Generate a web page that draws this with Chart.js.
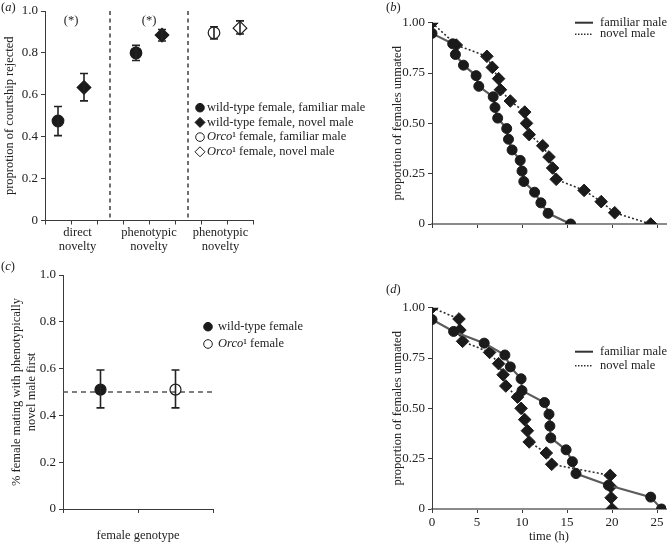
<!DOCTYPE html>
<html><head><meta charset="utf-8"><title>Female responses to male novelty</title>
<script src="https://cdn.jsdelivr.net/npm/chart.js@4.4.1/dist/chart.umd.min.js"></script>
<style>
html,body{margin:0;padding:0;background:#fff}
#wrap{position:relative;width:667px;height:543px;overflow:hidden;background:#fff}
#wrap canvas{position:absolute;left:0;top:0}
</style></head><body>
<div id="wrap">
<canvas id="cA" width="667" height="543"></canvas>
<canvas id="cB" width="667" height="543"></canvas>
<canvas id="cC" width="667" height="543"></canvas>
<canvas id="cD" width="667" height="543"></canvas>
</div>
<script>
// ================= DATA =================
// (a) proportion of courtship rejected
const aGroupLabels = [['direct', 'novelty'], ['phenotypic', 'novelty'], ['phenotypic', 'novelty']];
const aSignificance = ['(*)', '(*)', ''];
const aSeriesNames = ['wild-type female, familiar male', 'wild-type female, novel male',
                      'Orco¹ female, familiar male', 'Orco¹ female, novel male'];
const aWildFamiliarMean = [0.475, 0.800, null];
const aWildFamiliarLow  = [0.405, 0.764, null];
const aWildFamiliarHigh = [0.544, 0.836, null];
const aWildNovelMean    = [0.635, 0.885, null];
const aWildNovelLow     = [0.571, 0.857, null];
const aWildNovelHigh    = [0.702, 0.912, null];
const aOrcoFamiliarMean = [null, null, 0.896];
const aOrcoFamiliarLow  = [null, null, 0.866];
const aOrcoFamiliarHigh = [null, null, 0.925];
const aOrcoNovelMean    = [null, null, 0.918];
const aOrcoNovelLow     = [null, null, 0.890];
const aOrcoNovelHigh    = [null, null, 0.953];
const aYTicks = [0, 0.2, 0.4, 0.6, 0.8, 1.0];
const aYTickLabels = ['0', '0.2', '0.4', '0.6', '0.8', '1.0'];

// (b) proportion of females unmated over time (direct novelty)
const bFamiliarTime    = [0, 2.3, 2.6, 3.5, 4.9, 5.2, 6.8, 7.0, 7.3, 8.3, 8.5, 8.9, 9.8, 10.0, 10.2, 11.4, 12.1, 12.9, 15.4];
const bFamiliarUnmated = [0.947, 0.895, 0.842, 0.789, 0.737, 0.684, 0.632, 0.579, 0.526, 0.474, 0.421, 0.368, 0.316, 0.263, 0.211, 0.158, 0.105, 0.053, 0];
const bNovelTime       = [0, 2.7, 6.1, 6.7, 7.4, 7.6, 8.7, 10.3, 10.5, 10.8, 12.3, 13.0, 13.4, 13.8, 16.9, 18.8, 20.3, 24.3];
const bNovelUnmated    = [1.0, 0.889, 0.833, 0.778, 0.722, 0.667, 0.611, 0.556, 0.5, 0.444, 0.389, 0.333, 0.278, 0.222, 0.167, 0.111, 0.056, 0];
const survivalNames = ['familiar male', 'novel male'];
const survivalYTicks = [0, 0.25, 0.5, 0.75, 1.0];
const survivalYTickLabels = ['0', '0.25', '0.50', '0.75', '1.00'];
const timeTicks = [0, 5, 10, 15, 20, 25];
const timeTickLabels = ['0', '5', '10', '15', '20', '25'];

// (c) female mating with phenotypically novel male first
const cGenotypes = ['wild-type female', 'Orco¹ female'];
const cMean = [0.510, 0.510];
const cLow  = [0.432, 0.432];
const cHigh = [0.594, 0.594];
const cChance = 0.5;

// (d) proportion of females unmated over time (phenotypic novelty)
const dFamiliarTime    = [0, 2.4, 5.8, 8.1, 8.7, 9.9, 10.0, 12.5, 13.0, 13.1, 13.2, 14.9, 15.6, 16.0, 19.6, 24.3, 25.5];
const dFamiliarUnmated = [0.941, 0.882, 0.824, 0.765, 0.706, 0.647, 0.588, 0.529, 0.471, 0.412, 0.353, 0.294, 0.235, 0.176, 0.118, 0.059, 0];
const dNovelTime       = [0, 3.0, 3.1, 3.4, 6.4, 7.4, 7.9, 8.2, 9.5, 9.9, 10.3, 10.6, 10.8, 12.7, 13.3, 19.8, 19.85, 19.9, 20.0];
const dNovelUnmated    = [1.0, 0.944, 0.889, 0.833, 0.778, 0.722, 0.667, 0.611, 0.556, 0.5, 0.444, 0.389, 0.333, 0.278, 0.222, 0.167, 0.111, 0.056, 0];

// ================= STYLE / HELPERS =================
const SERIF = '"Liberation Serif", "Times New Roman", Times, serif';
const INK = '#1b1b1b';
const AXIS = '#3a3a3a';
const TXT = '#222';
const FS = 12.5;
Chart.defaults.font.family = SERIF;
Chart.defaults.font.size = FS;
Chart.defaults.color = TXT;

const common = {
  responsive: false, animation: false, devicePixelRatio: 1, events: [],
  plugins: { legend: { display: false }, tooltip: { enabled: false }, title: { display: false } }
};
const pad = (left, top, right, bottom) => ({ autoPadding: false, padding: { left, top, right, bottom } });

function yAxis(o) {
  return {
    type: 'linear', position: 'left', min: o.min, max: o.max,
    afterFit: s => { s.width = o.width; },
    afterBuildTicks: s => { s.ticks = o.ticks.map(v => ({ value: v })); },
    ticks: { autoSkip: false, padding: 3, callback: (v, i) => o.labels[i], font: { size: 13 }, color: TXT },
    grid: { drawOnChartArea: false, drawTicks: true, tickLength: 4, tickColor: AXIS, tickWidth: 1 },
    border: { display: true, color: o.borderColor || AXIS, width: 1 },
    title: { display: true, text: o.title, padding: 0, font: { size: FS, lineHeight: o.lineHeight || 1.2 }, color: TXT }
  };
}
function xAxis(o) {
  return {
    type: 'linear', position: 'bottom', min: o.min, max: o.max,
    afterFit: s => { s.height = o.height; },
    afterBuildTicks: s => { s.ticks = o.ticks.map(v => ({ value: v })); },
    ticks: { autoSkip: false, maxRotation: 0, padding: 2, callback: (v, i) => (o.labels ? o.labels[i] : ''), font: { size: 13 }, color: TXT },
    grid: { drawOnChartArea: false, drawTicks: true, tickLength: 4, tickColor: o.tickColor || AXIS, tickWidth: 1 },
    border: { display: true, color: o.borderColor || AXIS, width: o.borderWidth || 1 },
    title: o.title ? { display: true, text: o.title, padding: { top: 0, bottom: o.titlePad || 0 }, font: { size: FS }, color: TXT } : { display: false }
  };
}

function marker(ctx, shape, x, y, r, filled) {
  ctx.save();
  ctx.beginPath();
  if (shape === 'circle') ctx.arc(x, y, r, 0, Math.PI * 2);
  else { ctx.moveTo(x, y - r); ctx.lineTo(x + r, y); ctx.lineTo(x, y + r); ctx.lineTo(x - r, y); ctx.closePath(); }
  ctx.lineWidth = 1; ctx.strokeStyle = INK;
  if (filled) { ctx.fillStyle = INK; ctx.fill(); }
  ctx.stroke();
  ctx.restore();
}
function richText(ctx, x, y, parts, size) {
  let cx = x;
  ctx.save(); ctx.textBaseline = 'middle'; ctx.textAlign = 'left'; ctx.fillStyle = TXT;
  for (const p of parts) {
    ctx.font = (p.italic ? 'italic ' : '') + size + 'px ' + SERIF;
    ctx.fillText(p.t, cx, y);
    cx += ctx.measureText(p.t).width;
  }
  ctx.restore();
}
// "Orco" is a gene name, set in italics
function nameParts(name) {
  return name.startsWith('Orco') ? [{ t: 'Orco', italic: true }, { t: name.slice(4) }] : [{ t: name }];
}
function panelLabel(ctx, letter, x, y) {
  richText(ctx, x, y, [{ t: '(' }, { t: letter, italic: true }, { t: ')' }], FS);
}

const errorBars = {
  id: 'errorBars',
  afterDatasetsDraw(chart) {
    const ctx = chart.ctx, ys = chart.scales.y;
    chart.data.datasets.forEach((ds, di) => {
      const meta = chart.getDatasetMeta(di);
      ds.data.forEach((d, i) => {
        if (d.lo == null) return;
        const x = meta.data[i].x;
        const yl = ys.getPixelForValue(d.lo), yh = ys.getPixelForValue(d.hi);
        ctx.save(); ctx.strokeStyle = '#222'; ctx.lineWidth = 1.6;
        ctx.beginPath();
        ctx.moveTo(x, yl); ctx.lineTo(x, yh);
        ctx.moveTo(x - 4, yl); ctx.lineTo(x + 4, yl);
        ctx.moveTo(x - 4, yh); ctx.lineTo(x + 4, yh);
        ctx.stroke(); ctx.restore();
      });
    });
  }
};

const markerDs = (label, data, shape, filled, r) => ({
  label, data, showLine: false, pointStyle: shape, pointRadius: r, pointHoverRadius: r,
  pointBackgroundColor: filled ? INK : 'rgba(255,255,255,0)', pointBorderColor: INK, pointBorderWidth: 1.2
});
const survivalDs = (label, times, values, shape, r, solid) => ({
  label, data: times.map((t, i) => ({ x: t, y: values[i] })), showLine: true, tension: 0,
  borderColor: solid ? '#5c5c5c' : '#2e2e2e', borderWidth: solid ? 2.2 : 1.6, borderDash: solid ? [] : [2, 2.2],
  pointStyle: shape, pointRadius: r, pointHoverRadius: r,
  pointBackgroundColor: INK, pointBorderColor: INK, pointBorderWidth: 1
});
function survivalLegend(ctx, x, y0, dy) {
  survivalNames.forEach((n, i) => {
    const y = y0 + i * dy;
    ctx.save();
    ctx.strokeStyle = '#333';
    ctx.lineWidth = i === 0 ? 2 : 1.5;
    ctx.setLineDash(i === 0 ? [] : [1.5, 1.5]);
    ctx.beginPath(); ctx.moveTo(x, y); ctx.lineTo(x + 18, y); ctx.stroke();
    ctx.restore();
    richText(ctx, x + 25, y, [{ t: n }], FS);
  });
}

// ================= (a) =================
const aSlots = 3 * aGroupLabels.length - 1;
const slot = (g, k) => 3 * g + 0.5 + k;
function pts(mean, lo, hi, k) {
  const out = [];
  mean.forEach((m, g) => { if (m != null) out.push({ x: slot(g, k), y: m, lo: lo[g], hi: hi[g] }); });
  return out;
}
const aShapes = [['circle', true], ['rectRot', true], ['circle', false], ['rectRot', false]];

const panelA = {
  id: 'panelA',
  beforeDatasetsDraw(chart) {
    const { ctx, chartArea: ca, scales: { x } } = chart;
    ctx.save(); ctx.strokeStyle = '#222'; ctx.lineWidth = 1.3; ctx.setLineDash([4, 3.5]);
    for (let g = 1; g < aGroupLabels.length; g++) {
      const px = x.getPixelForValue(3 * g - 0.5);
      ctx.beginPath(); ctx.moveTo(px, ca.top); ctx.lineTo(px, ca.bottom); ctx.stroke();
    }
    ctx.restore();
  },
  afterDraw(chart) {
    const { ctx, chartArea: ca, scales: { x, y } } = chart;
    ctx.save(); ctx.font = FS + 'px ' + SERIF; ctx.fillStyle = TXT; ctx.textAlign = 'center'; ctx.textBaseline = 'middle';
    aGroupLabels.forEach((lines, g) => {
      const lo = Math.max(x.min, 3 * g - 0.5), hi = Math.min(x.max, 3 * g + 2.5);
      const cx = (x.getPixelForValue(lo) + x.getPixelForValue(hi)) / 2;
      lines.forEach((t, i) => ctx.fillText(t, cx, ca.bottom + 12.5 + i * 14));
      if (aSignificance[g]) ctx.fillText(aSignificance[g], x.getPixelForValue(3 * g + 1), y.getPixelForValue(0.955));
    });
    ctx.restore();
    aSeriesNames.forEach((n, i) => {
      const yy = 107.7 + i * 14.7;
      marker(ctx, aShapes[i][0] === 'circle' ? 'circle' : 'diamond', 200, yy, aShapes[i][0] === 'circle' ? 4.3 : 5, aShapes[i][1]);
      richText(ctx, 207, yy, nameParts(n), FS);
    });
    panelLabel(ctx, 'a', 1, 8);
  }
};

new Chart(document.getElementById('cA'), {
  type: 'scatter',
  data: { datasets: [
    markerDs(aSeriesNames[0], pts(aWildFamiliarMean, aWildFamiliarLow, aWildFamiliarHigh, 0), 'circle', true, 5.8),
    markerDs(aSeriesNames[1], pts(aWildNovelMean, aWildNovelLow, aWildNovelHigh, 1), 'rectRot', true, 6.8),
    markerDs(aSeriesNames[2], pts(aOrcoFamiliarMean, aOrcoFamiliarLow, aOrcoFamiliarHigh, 0), 'circle', false, 5.8),
    markerDs(aSeriesNames[3], pts(aOrcoNovelMean, aOrcoNovelLow, aOrcoNovelHigh, 1), 'rectRot', false, 6.8)
  ] },
  options: Object.assign({}, common, {
    layout: pad(2, 11, 414, 282.5),
    scales: {
      x: xAxis({ min: 0, max: aSlots, ticks: Array.from({ length: aSlots + 1 }, (_, i) => i), height: 40 }),
      y: yAxis({ min: 0, max: 1, ticks: aYTicks, labels: aYTickLabels, width: 43, title: 'proprotion of courtship rejected' })
    }
  }),
  plugins: [errorBars, panelA]
});

// ================= (b) =================
new Chart(document.getElementById('cB'), {
  type: 'scatter',
  data: { datasets: [
    survivalDs(survivalNames[0], bFamiliarTime, bFamiliarUnmated, 'circle', 5, true),
    survivalDs(survivalNames[1], bNovelTime, bNovelUnmated, 'rectRot', 6.3, false)
  ] },
  options: Object.assign({}, common, {
    layout: pad(390, 22.7, 1, 299),
    scales: {
      x: xAxis({ min: 0, max: 26, ticks: timeTicks, height: 20, borderColor: '#8a8a8a', borderWidth: 2 }),
      y: yAxis({ min: 0, max: 1, ticks: survivalYTicks, labels: survivalYTickLabels, width: 42, title: 'proportion of females unmated' })
    }
  }),
  plugins: [{ id: 'panelB', afterDraw(chart) { survivalLegend(chart.ctx, 575, 22.7, 11.5); panelLabel(chart.ctx, 'b', 386, 8); } }]
});

// ================= (c) =================
const cShapes = [true, false];
new Chart(document.getElementById('cC'), {
  type: 'scatter',
  data: { datasets: [
    markerDs(cGenotypes[0], [{ x: 0.5, y: cMean[0], lo: cLow[0], hi: cHigh[0] }], 'circle', true, 5.5),
    markerDs(cGenotypes[1], [{ x: 1.5, y: cMean[1], lo: cLow[1], hi: cHigh[1] }], 'circle', false, 5.5),
    { label: 'chance', data: [{ x: 0, y: cChance }, { x: cGenotypes.length, y: cChance }], showLine: true, pointRadius: 0,
      borderColor: '#555', borderWidth: 1.5, borderDash: [5, 4], order: 10 }
  ] },
  options: Object.assign({}, common, {
    layout: pad(10, 275, 454, 0),
    scales: {
      x: xAxis({ min: 0, max: cGenotypes.length, ticks: [0, 1, 2], height: 34, title: 'female genotype' }),
      y: yAxis({ min: 0, max: 1, ticks: aYTicks, labels: aYTickLabels, width: 53, lineHeight: 1.15,
                 title: ['% female mating with phenotypically', 'novel male first'] })
    }
  }),
  plugins: [errorBars, { id: 'panelC', afterDraw(chart) {
    const ctx = chart.ctx;
    cGenotypes.forEach((n, i) => {
      const yy = 326.7 + i * 17.3;
      marker(ctx, 'circle', 208, yy, 4.3, cShapes[i]);
      richText(ctx, 218, yy, nameParts(n), FS);
    });
    panelLabel(ctx, 'c', 1, 267);
  } }]
});

// ================= (d) =================
new Chart(document.getElementById('cD'), {
  type: 'scatter',
  data: { datasets: [
    survivalDs(survivalNames[0], dFamiliarTime, dFamiliarUnmated, 'circle', 5, true),
    survivalDs(survivalNames[1], dNovelTime, dNovelUnmated, 'rectRot', 6.3, false)
  ] },
  options: Object.assign({}, common, {
    layout: pad(390, 307.7, 1, 0),
    scales: {
      x: xAxis({ min: 0, max: 26, ticks: timeTicks, labels: timeTickLabels, height: 34, borderColor: '#8a8a8a', borderWidth: 2,
                 title: 'time (h)', titlePad: -1.5 }),
      y: yAxis({ min: 0, max: 1, ticks: survivalYTicks, labels: survivalYTickLabels, width: 42, title: 'proportion of females unmated' })
    }
  }),
  plugins: [{ id: 'panelD', afterDraw(chart) { survivalLegend(chart.ctx, 575, 351.7, 14); panelLabel(chart.ctx, 'd', 386, 290); } }]
});
</script>
</body></html>
